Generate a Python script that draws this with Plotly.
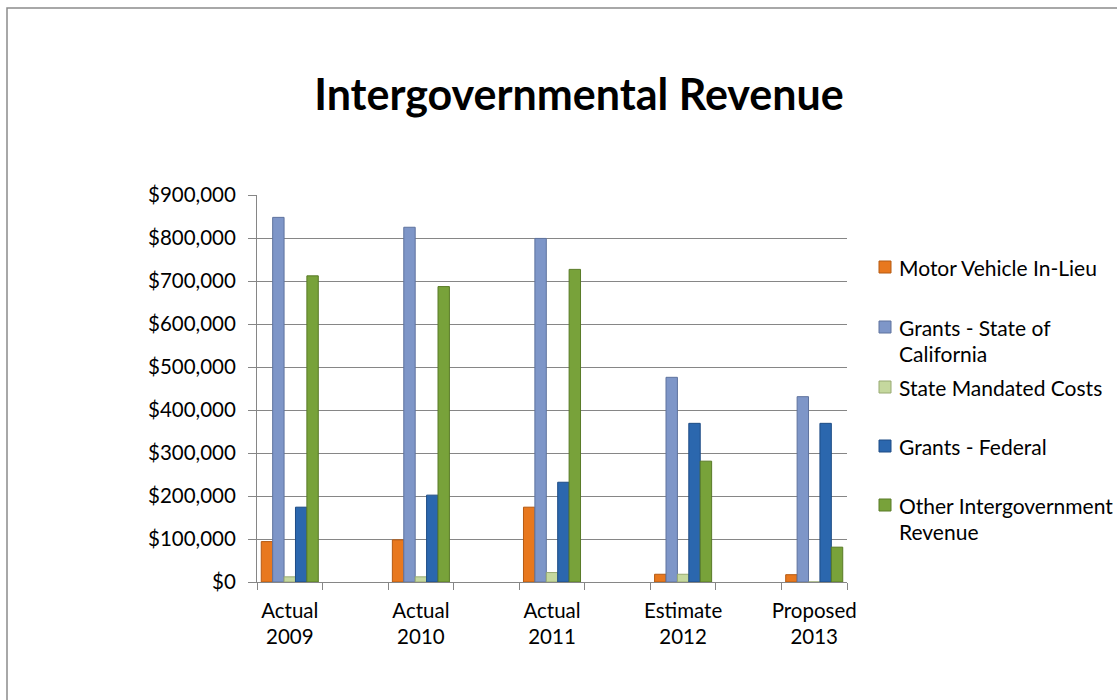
import plotly.graph_objects as go

# Fiscal periods shown on the category axis
periods = ["Actual<br>2009", "Actual<br>2010", "Actual<br>2011", "Estimate<br>2012", "Proposed<br>2013"]

# Revenue by source (dollars)
motor_vehicle = [94000, 98000, 174000, 18000, 17000]
grants_state = [848000, 825000, 799000, 476000, 431000]
state_mandated = [12000, 12000, 22000, 18000, 0]
grants_federal = [174000, 202000, 232000, 369000, 369000]
other_intergov = [712000, 687000, 727000, 281000, 81000]

series_names = [
    "Motor Vehicle In-Lieu",
    "Grants - State of California",
    "State Mandated Costs",
    "Grants - Federal",
    "Other Intergovernment Revenue",
]
# wrapped lines for the side key
key_lines = [
    ["Motor Vehicle In-Lieu"],
    ["Grants - State of", "California"],
    ["State Mandated Costs"],
    ["Grants - Federal"],
    ["Other Intergovernment", "Revenue"],
]
series_values = [motor_vehicle, grants_state, state_mandated, grants_federal, other_intergov]
fill_colors = ["#E8781E", "#7E96C8", "#C5D89E", "#2B67AE", "#78A23A"]
edge_colors = ["#B55A12", "#5F739E", "#98AA72", "#1E4C85", "#597A27"]

FONT = "Lato"
W, H = 1117, 700
L, R, T, B = 257, 847, 195, 582   # plot area in pixels

# each period sits in every other slot, leaving an empty slot between periods
slot = [2 * i for i in range(len(periods))]

# bar cluster fills 87% of one slot
n = len(series_names)
cluster = 0.87
bar_w = cluster / n

fig = go.Figure()
for j, (name, vals, fc, ec) in enumerate(zip(series_names, series_values, fill_colors, edge_colors)):
    fig.add_trace(go.Bar(
        x=slot, y=vals, name=name,
        width=bar_w, offset=-cluster / 2 + j * bar_w,
        marker=dict(color=fc, line=dict(color=ec, width=1)),
        showlegend=False,
    ))


def px_x(px):
    return (px - L) / (R - L)


def px_y(py):
    return (B - py) / (B - T)


shapes = [
    # outer chart frame
    dict(type="rect", xref="paper", yref="paper",
         x0=px_x(7), x1=px_x(1125), y0=px_y(708), y1=px_y(8),
         line=dict(color="#8C8C8C", width=1.5), fillcolor="rgba(0,0,0,0)", layer="below"),
]

annotations = []
# side key: colored squares with labels
key_top = [267, 327, 387, 446, 505]
for lines, fc, ec, yc in zip(key_lines, fill_colors, edge_colors, key_top):
    shapes.append(dict(type="rect", xref="paper", yref="paper",
                       x0=px_x(879), x1=px_x(891), y0=px_y(yc + 6), y1=px_y(yc - 6),
                       fillcolor=fc, line=dict(color=ec, width=1)))
    for k, line in enumerate(lines):
        annotations.append(dict(
            text=line, xref="paper", yref="paper",
            x=px_x(897), y=px_y(yc + 26.5 * k), xanchor="left", yanchor="middle",
            showarrow=False, font=dict(family=FONT, size=21, color="#000000"),
        ))

fig.update_layout(
    width=W, height=H,
    margin=dict(l=L, r=W - R, t=T, b=H - B),
    paper_bgcolor="white", plot_bgcolor="white",
    barmode="overlay",
    title=dict(text="<b>Intergovernmental Revenue</b>", x=579 / W, y=1 - 95 / H,
               xanchor="center", yanchor="middle",
               font=dict(family=FONT, size=43, color="#000000")),
    font=dict(family=FONT, size=20.5, color="#000000"),
    shapes=shapes,
    annotations=annotations,
    xaxis=dict(
        range=[-0.5, 2 * len(periods) - 1.5],
        tickmode="array", tickvals=slot, ticktext=periods,
        ticks="", showgrid=False, zeroline=False,
        showline=True, linecolor="#868686", linewidth=1,
        tickfont=dict(family=FONT, size=20.5),
        ticklabelstandoff=10,
        minor=dict(tickmode="linear", tick0=-0.5, dtick=1, ticks="outside",
                   ticklen=7, tickcolor="#868686", showgrid=False),
    ),
    yaxis=dict(
        range=[0, 900000], dtick=100000, tickprefix="$", tickformat=",d",
        ticks="outside", ticklen=8, tickcolor="#868686",
        showgrid=True, gridcolor="#868686", gridwidth=1,
        showline=True, linecolor="#868686", linewidth=1, zeroline=False,
        tickfont=dict(family=FONT, size=20.5),
        ticklabelstandoff=8,
    ),
)

fig.write_html("out.html")
